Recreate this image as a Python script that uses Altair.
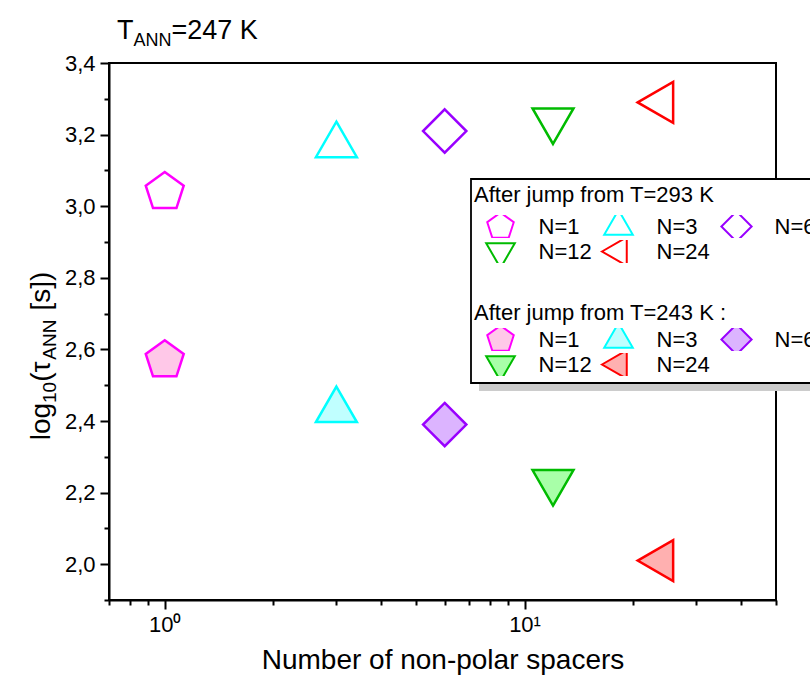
import altair as alt
import pandas as pd

# ---------------- data ----------------
N_VALUES = [1, 3, 6, 12, 24]
LABELS = ["N=1", "N=3", "N=6", "N=12", "N=24"]
TAU_AFTER_293 = [3.04, 3.17, 3.21, 3.24, 3.29]
TAU_AFTER_243 = [2.57, 2.43, 2.39, 2.23, 2.01]

Y_MAJOR = [2.0, 2.2, 2.4, 2.6, 2.8, 3.0, 3.2, 3.4]
Y_MINOR = [1.9, 2.1, 2.3, 2.5, 2.7, 2.9, 3.1, 3.3]
X_MAJOR = [1, 10]
X_MINOR = [0.7, 0.8, 0.9, 2, 3, 4, 5, 6, 7, 8, 9, 20, 30, 40, 50]

TITLE_293 = "After jump from T=293 K"
TITLE_243 = "After jump from T=243 K :"

# ---------------- styles ----------------
FONT = "Liberation Sans"
STROKES = ["#ff00ff", "#00ffff", "#9900ff", "#00bb00", "#ff0000"]
FILLS = ["#ffc8e8", "#c0ffff", "#dcb4ff", "#a8ffa8", "#ffb0b0"]
SHAPES = [
    "M0,-0.95L0.9035,-0.2936L0.5584,0.7686L-0.5584,0.7686L-0.9035,-0.2936Z",  # pentagon
    "M0,-1.126L0.975,0.563L-0.975,0.563Z",  # triangle up
    "M0,-1.03L1.03,0L0,1.03L-1.03,0Z",  # diamond
    "M0,1.126L0.975,-0.563L-0.975,-0.563Z",  # triangle down
    "M-1.126,0L0.563,-0.975L0.563,0.975Z",  # triangle left
]

W, H = 667, 537
PAD = {"left": 109, "top": 63, "right": 34, "bottom": 75}

df_open = pd.DataFrame({"N": N_VALUES, "label": LABELS, "tau": TAU_AFTER_293})
df_fill = pd.DataFrame({"N": N_VALUES, "label2": LABELS, "tau": TAU_AFTER_243})

xscale = alt.Scale(type="log", domain=[0.7, 50], nice=False)
yscale = alt.Scale(domain=[1.9, 3.4], nice=False, zero=False)

legend_common = dict(
    orient="none",
    direction="horizontal",
    columns=3,
    symbolSize=860,
    symbolStrokeWidth=2,
    symbolOffset=10.5,
    labelOffset=22,
    columnPadding=0,
    rowPadding=2,
    clipHeight=23,
    padding=0,
    labelFont=FONT,
    labelFontSize=22,
    labelColor="black",
    labelLimit=300,
    titleFont=FONT,
    titleFontSize=22,
    titleFontWeight="normal",
    titleColor="black",
    titleLimit=600,
    legendX=365,
)

leg_open = alt.Legend(title=TITLE_293, legendY=122, titlePadding=8, **legend_common)
leg_fill = alt.Legend(title=TITLE_243, legendY=240, titlePadding=3, **legend_common)

x_major = alt.Axis(
    values=X_MAJOR, orient="bottom", grid=False,
    labelExpr="datum.value == 1 ? '10\u2070' : '10\u00b9'",
    tickSize=9, tickWidth=2, domainWidth=2, labelFontSize=22, labelPadding=5,
    title="Number of non-polar spacers", titleFontSize=28, titleFontWeight="normal",
    titleY=68, titleBaseline="alphabetic",
)
x_minor = alt.Axis(
    values=X_MINOR, orient="bottom", grid=False, labels=False, tickSize=5,
    tickWidth=2, domain=False, title=None,
)
y_major = alt.Axis(
    values=Y_MAJOR, orient="left", grid=False,
    labelExpr="replace(format(datum.value, '.1f'), '.', ',')",
    tickSize=9, tickWidth=2, domainWidth=2, labelFontSize=22, labelPadding=5,
    title=None,
)
y_minor = alt.Axis(
    values=Y_MINOR, orient="left", grid=False, labels=False, tickSize=5,
    tickWidth=2, domain=False, title=None,
)

open_layer = alt.Chart(df_open).mark_point(filled=False, size=1764, strokeWidth=2.5, opacity=1).encode(
    x=alt.X("N:Q", scale=xscale, axis=x_major),
    y=alt.Y("tau:Q", scale=yscale, axis=y_major),
    shape=alt.Shape("label:N", scale=alt.Scale(domain=LABELS, range=SHAPES), legend=leg_open),
    stroke=alt.Stroke("label:N", scale=alt.Scale(domain=LABELS, range=STROKES), legend=leg_open),
)

fill_layer = alt.Chart(df_fill).mark_point(filled=True, size=1764, strokeWidth=2.5, opacity=1).encode(
    x=alt.X("N:Q", scale=xscale, axis=x_minor),
    y=alt.Y("tau:Q", scale=yscale, axis=y_minor),
    shape=alt.Shape("label2:N", scale=alt.Scale(domain=LABELS, range=SHAPES), legend=leg_fill),
    stroke=alt.Stroke("label2:N", scale=alt.Scale(domain=LABELS, range=STROKES), legend=leg_fill),
    fill=alt.Fill("label2:N", scale=alt.Scale(domain=LABELS, range=FILLS), legend=leg_fill),
)

# legend frame with shadow (pixel positions relative to the plot area)
one = pd.DataFrame({"a": [0]})
shadow = alt.Chart(one).mark_rect(fill="#cccccc").encode(
    x=alt.value(370), x2=alt.value(760), y=alt.value(123), y2=alt.value(328)
)
frame = alt.Chart(one).mark_rect(fill="white", stroke="black", strokeWidth=1.8).encode(
    x=alt.value(362), x2=alt.value(750), y=alt.value(116), y2=alt.value(320)
)

# text with subscripts, built piece by piece (Arial metrics)
WIDTHS = {"T": 0.611, "A": 0.667, "N": 0.722, "=": 0.584, "2": 0.556, "4": 0.556,
          "7": 0.556, " ": 0.278, "\u00a0": 0.278, "K": 0.667, "l": 0.222, "o": 0.556,
          "g": 0.556, "1": 0.556, "0": 0.556, "(": 0.333, "\u03c4": 0.46, "[": 0.278,
          "s": 0.5, "]": 0.278, ")": 0.333}


def text_width(s, size):
    return sum(WIDTHS.get(c, 0.556) for c in s) * size


def piece(txt, size, x, y, angle=0):
    return alt.Chart(pd.DataFrame({"t": [txt]})).mark_text(
        font=FONT, fontSize=size, align="left", baseline="alphabetic", angle=angle,
        color="black",
    ).encode(text="t:N", x=alt.value(x), y=alt.value(y))


title_parts = [("T", 27, 0, 0), ("ANN", 18, 7, 0), ("=247\u00a0K", 27, 0, 0)]
texts = []
cx = 8
for s, sz, dy, gap in title_parts:
    cx += gap
    texts.append(piece(s, sz, cx, -24 + dy))
    cx += text_width(s, sz)

# (text, size, baseline shift, extra gap before)
ytitle_parts = [("log", 28, 0, 0), ("10", 19, 6, 0), ("(\u03c4", 28, 0, 0), ("ANN", 19, 6, 0),
                ("[s])", 28, 0, 9)]
total = sum(text_width(s, sz) + g for s, sz, _, g in ytitle_parts)
cy = 293 + total / 2
for s, sz, dx, gap in ytitle_parts:
    cy -= gap
    texts.append(piece(s, sz, -59 + dx, cy, angle=270))
    cy -= text_width(s, sz)

chart = alt.layer(shadow, frame, open_layer, fill_layer, *texts).resolve_scale(
    shape="independent", stroke="independent", fill="independent"
).resolve_legend(
    shape="independent", stroke="independent", fill="independent"
).resolve_axis(
    x="independent", y="independent"
).properties(
    width=W, height=H,
    autosize=alt.AutoSizeParams(type="none"),
    padding=PAD,
    background="white",
).configure_view(
    stroke="black", strokeWidth=2
).configure_axis(
    labelFont=FONT, titleFont=FONT, labelColor="black", titleColor="black",
    domainColor="black", tickColor="black",
)

chart.save("out.html", embed_options={"renderer": "svg", "actions": False})
